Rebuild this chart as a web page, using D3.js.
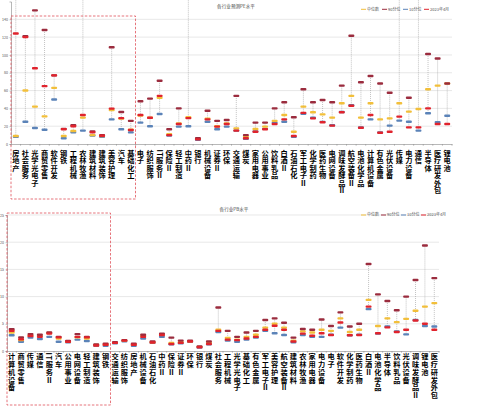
<!DOCTYPE html>
<html><head><meta charset="utf-8">
<script src="https://cdn.jsdelivr.net/npm/d3@7/dist/d3.min.js"></script>
<style>html,body{margin:0;padding:0;background:#fff;}svg{display:block;}
text.cat{writing-mode:vertical-rl;}</style>
</head><body>
<script>
// ---------- DATA ----------
const legendLabels = ["中位数", "90分位", "10分位", "2023年4月"];
const topTitle = "各行业预测PE水平";
const bottomTitle = "各行业PB水平";

const topCats = ["房地产","社会服务","光学光电子","商贸零售","软件开发","钢铁","工程机械","农林牧渔","建筑材料","建筑装饰","美容护理","汽车","基础化工","电子","纺织服饰","IT服务Ⅱ","保险Ⅱ","轻工制造","中药Ⅱ","银行","机械设备","证券Ⅱ","环保","交通运输","煤炭","家用电器","公用事业","饮料乳品","白酒Ⅱ","石油石化","军工电子Ⅱ","化学制药","医药生物","电网设备","调味发酵品Ⅱ","航空装备Ⅱ","电池化学品","计算机设备","有色金属","光伏设备","传媒","电力设备","通信","半导体","医疗研发外包","锂电池"];
const topP90    = [180,121,150,128,77,17,21,180,14,9.8,108.6,36,26,48,51,71,16.5,40,180,6.4,37.4,26,27,54,10,24,24,40,46.8,30,61.4,46.8,49.4,46.8,65.5,121.6,69.3,76.4,68,57.6,180,52,180,101,96,68];
const topMedian = [9,60,42,31,63,9,14.6,29.6,10,9,38,28.5,16,32,29.5,52,11,23,30,5.8,28.5,20,23,17.6,8.2,16.8,19.5,26,32.6,13.8,42,35.6,33.3,29.6,45.7,54,29.6,45.7,27.7,28.8,45.7,36.3,39.3,61.4,65.5,68];
const topP10    = [8.2,25,18,16,50,6.4,13,15,9.5,8,27.7,16.5,13,24,20,33.7,9.5,19.5,20,4.7,25,16.5,19.5,15,5.7,14.2,17,24,25,8,34,29.5,24.8,21,36,43.5,18.6,27.7,13,20.6,26.2,25,15,34.5,24.4,31.8];
const topNow    = [124,120,85,65,77,16.5,20,32.6,13,9.3,39.7,29,15.7,32.6,29.5,54,10,22.5,29,5.2,27.7,19.5,22.5,15,6.4,13.8,16.5,22.5,27.7,9,35,28.8,24.4,20.6,35.6,43,18.3,32.6,12.7,13.8,30.7,18.7,18.7,40,22.5,22.5];

const botCats = ["计算机设备","商贸零售","传媒","通信","IT服务Ⅱ","汽车","公用事业","电网设备","轻工制造","建筑装饰","钢铁","交通运输","纺织服饰","房地产","机械设备","石油石化","中药Ⅱ","保险Ⅱ","证券Ⅱ","环保","银行","煤炭","社会服务","工程机械","光学光电子","基础化工","有色金属","军工电子Ⅱ","美容护理","航空装备Ⅱ","建筑材料","农林牧渔","家用电器","电力设备","电子","软件开发","化学制药","医药生物","白酒Ⅱ","电池化学品","半导体","饮料乳品","光伏设备","调味发酵品Ⅱ","锂电池","医疗研发外包"];
const botP90    = [4.0,2.5,3.1,3.0,3.4,2.6,1.85,3.1,2.6,1.2,1.35,1.6,2.0,1.35,3.0,1.75,3.2,2.45,1.9,1.9,0.85,1.75,8.0,3.7,2.6,3.4,3.7,5.7,6.0,5.2,2.45,4.05,3.9,5.8,4.6,7.1,4.5,5.0,16.0,10.4,9.2,7.5,10.0,13.05,19.4,13.4];
const botMedian = [3.4,2.0,2.8,2.8,3.3,2.3,1.7,2.5,2.3,1.1,1.2,1.5,1.9,1.2,2.8,1.6,3.0,1.5,1.6,1.8,0.75,1.5,3.9,2.4,2.1,2.6,3.0,4.3,5.0,4.3,1.9,3.6,3.4,3.9,3.7,6.0,3.5,3.9,9.4,4.6,6.0,5.3,5.9,7.4,8.15,8.8];
const botP10    = [2.9,1.7,2.45,2.2,2.6,1.7,1.6,2.1,1.85,0.95,0.95,1.4,1.8,0.95,2.3,1.5,2.6,1.25,1.4,1.7,0.65,1.25,3.5,1.9,1.7,2.1,2.45,3.7,3.25,2.95,1.6,2.95,2.6,2.6,3.0,4.3,2.9,3.0,7.7,3.2,4.5,3.6,3.05,5.7,4.6,4.5];
const botNow    = [3.7,2.15,2.75,2.6,3.2,2.5,1.7,2.6,2.5,1.0,1.15,1.5,1.9,1.15,2.6,1.55,2.95,1.3,1.5,1.75,0.7,1.3,3.7,2.1,2.0,2.3,2.6,3.9,4.65,3.9,1.75,3.2,2.8,3.25,2.95,5.25,2.9,2.95,8.15,3.25,4.35,3.5,3.9,5.6,5.0,3.9];

const topYTicks = [0,20,40,60,80,100,120,140];
const botYTicks = [0,5,10,15,20,25];

// ---------- STYLE ----------
const COL = {median:"#f2bf3a", p90:"#9b2c3e", p10:"#5b83b8", now:"#e0232d"};
const FONT = "'Noto Sans CJK SC','Noto Sans',sans-serif";

const svg = d3.select("body").append("svg").attr("width",479).attr("height",407)
  .style("font-family", FONT);

function panel(o){
  const g = svg.append("g");
  const x = d3.scaleBand().domain(o.cats).range([o.x0,o.x1]).padding(0);
  const y = d3.scaleLinear().domain(o.domain).range([o.yBottom,o.yTop]);
  // gridlines
  g.selectAll("line.grid").data(o.ticks.filter(t=>t>0)).join("line")
    .attr("x1",o.x0).attr("x2",o.x1).attr("y1",d=>y(d)).attr("y2",d=>y(d))
    .attr("stroke","#d9d9d9").attr("stroke-width",0.6);
  // y axis
  const ya = g.append("g").attr("transform",`translate(${o.x0},0)`)
    .call(d3.axisLeft(y).tickValues(o.ticks).tickSize(1.5).tickPadding(1.5));
  ya.select(".domain").attr("stroke","#888").attr("stroke-width",0.6);
  ya.selectAll(".tick line").attr("stroke","#888").attr("stroke-width",0.5);
  ya.selectAll("text").attr("font-size",3.6).attr("fill","#555").attr("font-family",FONT);
  // x axis
  const xa = g.append("g").attr("transform",`translate(0,${o.yBottom})`)
    .call(d3.axisBottom(x).tickSize(0).tickFormat(""));
  xa.select(".domain").attr("stroke","#888").attr("stroke-width",0.6);
  g.selectAll("line.xt").data(d3.range(o.cats.length+1)).join("line")
    .attr("x1",i=>o.x0+i*x.bandwidth()).attr("x2",i=>o.x0+i*x.bandwidth())
    .attr("y1",o.yBottom).attr("y2",o.yBottom+1.8).attr("stroke","#888").attr("stroke-width",0.5);
  // category labels (vertical writing)
  g.selectAll("text.cat").data(o.cats).join("text")
    .attr("class","cat")
    .attr("x",d=>x(d)+x.bandwidth()/2).attr("y",o.yBottom+o.labTop)
    .style("writing-mode","vertical-rl")
    .style("letter-spacing", o.ls+"px")
    .attr("font-size",7.2).attr("font-weight",700).attr("fill","#000")
    .text(d=>d);
  // range lines
  const rows = o.cats.map((c,i)=>({c, p90:o.p90[i], med:o.med[i], p10:o.p10[i], now:o.now[i]}));
  const clipId = "clip"+o.id;
  svg.append("clipPath").attr("id",clipId).append("rect")
    .attr("x",0).attr("y",0).attr("width",479).attr("height",o.yBottom);
  const mg = g.append("g").attr("clip-path",`url(#${clipId})`);
  mg.selectAll("line.rng").data(rows).join("line")
    .attr("x1",d=>x(d.c)+x.bandwidth()/2).attr("x2",d=>x(d.c)+x.bandwidth()/2)
    .attr("y1",d=>y(Math.max(d.p90,d.med,d.p10,d.now)))
    .attr("y2",d=>y(Math.min(d.p90,d.med,d.p10,d.now)))
    .attr("stroke","#9a9a9a").attr("stroke-width",0.6).attr("stroke-dasharray","1,1");
  const mw = 6, mh = 2.4;
  [["p10","p10"],["med","median"],["p90","p90"],["now","now"]].forEach(([k,col])=>{
    mg.selectAll("rect.m"+k).data(rows).join("rect")
      .attr("x",d=>x(d.c)+x.bandwidth()/2-mw/2).attr("y",d=>y(d[k])-mh/2)
      .attr("width",mw).attr("height",mh).attr("rx",1)
      .attr("fill",COL[col]);
  });
  // title
  svg.append("text").attr("x",o.titleX).attr("y",o.titleY).attr("text-anchor","middle")
    .attr("font-size",4.6).attr("fill","#444").text(o.title);
  // legend
  const lg = svg.append("g");
  const cols = [COL.median,COL.p90,COL.p10,COL.now];
  o.legX.forEach((lx,i)=>{
    lg.append("line").attr("x1",lx).attr("x2",lx+5).attr("y1",o.legY).attr("y2",o.legY)
      .attr("stroke",cols[i]).attr("stroke-width",1);
    lg.append("text").attr("x",lx+6).attr("y",o.legY+1.4).attr("font-size",4)
      .attr("fill","#555").text(legendLabels[i]);
  });
  // dashed highlight box
  svg.append("rect").attr("x",o.box[0]).attr("y",o.box[1])
    .attr("width",o.box[2]-o.box[0]).attr("height",o.box[3]-o.box[1])
    .attr("fill","none").attr("stroke","#e0525a").attr("stroke-width",0.8)
    .attr("stroke-dasharray","2.5,1.6");
}

panel({id:"t", cats:topCats, p90:topP90, med:topMedian, p10:topP10, now:topNow,
  x0:11, x1:452, yBottom:144, yTop:1.5, domain:[0,160], ticks:topYTicks, ls:0.3, labTop:5.5,
  title:topTitle, titleX:236, titleY:7.5, legY:9.3, legX:[361,382,403,424],
  box:[11,16,135.5,199]});
panel({id:"b", cats:botCats, p90:botP90, med:botMedian, p10:botP10, now:botNow,
  x0:7, x1:439, yBottom:351, yTop:215, domain:[0,25], ticks:botYTicks, ls:0.7, labTop:1.5,
  title:bottomTitle, titleX:234, titleY:211, legY:215, legX:[361,381,401,421],
  box:[7,213,110.5,405]});
</script>
</body></html>
